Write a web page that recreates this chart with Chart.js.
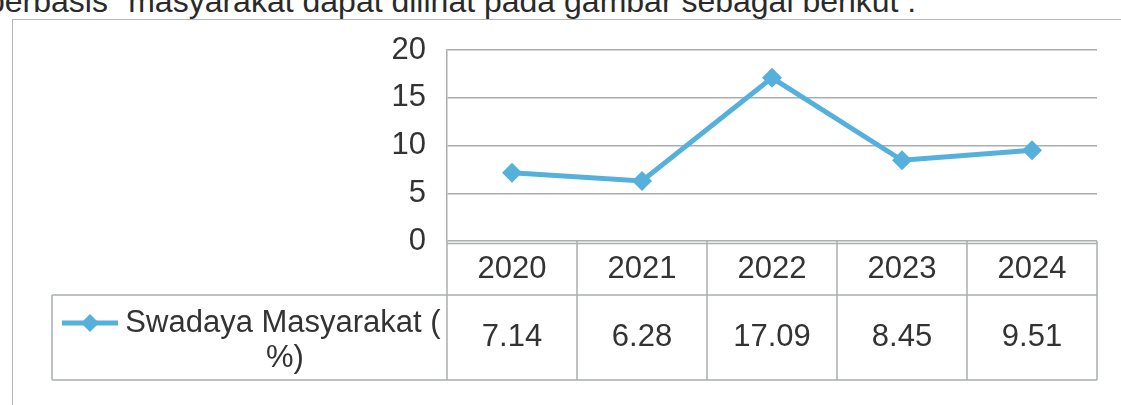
<!DOCTYPE html>
<html>
<head>
<meta charset="utf-8">
<script src="https://cdn.jsdelivr.net/npm/chart.js@4"></script>
<style>
  html, body { margin: 0; padding: 0; background: #fff; overflow: hidden; }
  #wrap { position: relative; width: 1121px; height: 405px; }
  #caption {
    position: absolute; left: -13px; top: -17px; white-space: nowrap;
    font-family: "Liberation Sans", Arial, sans-serif; font-size: 32px; color: #2a2a2a;
  }
  #frame {
    position: absolute; left: 12px; top: 19px; width: 1130px; height: 420px;
    border: 1.5px solid #b4b8b8; box-sizing: border-box;
  }
  canvas { position: absolute; left: 0; top: 0; }
</style>
</head>
<body>
<div id="wrap">
  <div id="caption">berbasis "masyarakat dapat dilihat pada gambar sebagai berikut :</div>
  <div id="frame"></div>
  <canvas id="chart" width="1121" height="405"></canvas>
</div>
<script>
// data
const years = ["2020", "2021", "2022", "2023", "2024"];
const swadaya = [7.14, 6.28, 17.09, 8.45, 9.51];
const seriesName = ["Swadaya Masyarakat (", "%)"];
const yTicks = [0, 5, 10, 15, 20];

const lineColor = "#55b1dc";
const textColor = "#333333";
const gridColor = "#a9aeae";
const fontFamily = "'Liberation Sans', Arial, sans-serif";
const fontSize = 31;

// draws the data table under the plot, using the x scale for the columns
const dataTable = {
  id: "dataTable",
  afterDraw(chart) {
    const ctx = chart.ctx;
    const x = chart.scales.x;
    const area = chart.chartArea;
    const step = x.getPixelForValue(1) - x.getPixelForValue(0);
    const top = area.bottom;
    const mid = top + 54;
    const bottom = top + 139;
    const legendLeft = 52;

    ctx.save();
    ctx.strokeStyle = gridColor;
    ctx.lineWidth = 1.5;

    // second line just below the axis, like the scan
    ctx.beginPath();
    ctx.moveTo(area.left, top + 2.5);
    ctx.lineTo(area.right, top + 2.5);
    ctx.stroke();

    ctx.beginPath();
    // horizontal lines
    ctx.moveTo(legendLeft, mid);
    ctx.lineTo(area.right, mid);
    ctx.moveTo(legendLeft, bottom);
    ctx.lineTo(area.right, bottom);
    ctx.moveTo(legendLeft, mid);
    ctx.lineTo(legendLeft, bottom);
    // column lines
    for (let i = 0; i <= years.length; i++) {
      const cx = x.getPixelForValue(0) - step / 2 + i * step;
      ctx.moveTo(cx, top);
      ctx.lineTo(cx, bottom);
    }
    ctx.stroke();

    ctx.fillStyle = textColor;
    ctx.font = fontSize + "px " + fontFamily;
    ctx.textAlign = "center";
    ctx.textBaseline = "middle";
    years.forEach((y, i) => {
      const cx = x.getPixelForValue(i);
      ctx.fillText(y, cx, (top + mid) / 2 + 1);
      ctx.fillText(swadaya[i].toFixed(2), cx, (mid + bottom) / 2);
    });

    // legend key in the first cell
    const keyY = mid + 28;
    ctx.strokeStyle = lineColor;
    ctx.lineWidth = 5;
    ctx.beginPath();
    ctx.moveTo(62, keyY);
    ctx.lineTo(118, keyY);
    ctx.stroke();
    ctx.fillStyle = lineColor;
    ctx.beginPath();
    ctx.moveTo(90, keyY - 9);
    ctx.lineTo(99, keyY);
    ctx.lineTo(90, keyY + 9);
    ctx.lineTo(81, keyY);
    ctx.closePath();
    ctx.fill();

    ctx.fillStyle = textColor;
    const textCenter = (123 + area.left - 4) / 2;
    ctx.fillText(seriesName[0], textCenter, keyY);
    ctx.fillText(seriesName[1], textCenter + 2, keyY + 35);
    ctx.restore();
  }
};

const chart = new Chart(document.getElementById("chart"), {
  type: "line",
  data: {
    labels: years,
    datasets: [{
      label: seriesName.join(" "),
      data: swadaya,
      borderColor: lineColor,
      backgroundColor: lineColor,
      borderWidth: 5,
      pointStyle: "rectRot",
      pointRadius: 10,
      pointBorderWidth: 0,
      tension: 0
    }]
  },
  options: {
    responsive: false,
    animation: false,
    layout: { padding: { left: 0, right: 24, top: 50, bottom: 164 } },
    plugins: { legend: { display: false }, tooltip: { enabled: false } },
    scales: {
      x: { display: false, offset: true },
      y: {
        min: 0, max: 20,
        afterFit(scale) { scale.width = 447; },
        afterBuildTicks(scale) { scale.ticks = yTicks.map(v => ({ value: v })); },
        ticks: { color: textColor, padding: 21, font: { family: fontFamily, size: fontSize } },
        grid: { color: gridColor, lineWidth: 1.5, drawTicks: false },
        border: { display: true, color: gridColor, width: 1.5 }
      }
    }
  },
  plugins: [dataTable]
});
</script>
</body>
</html>
